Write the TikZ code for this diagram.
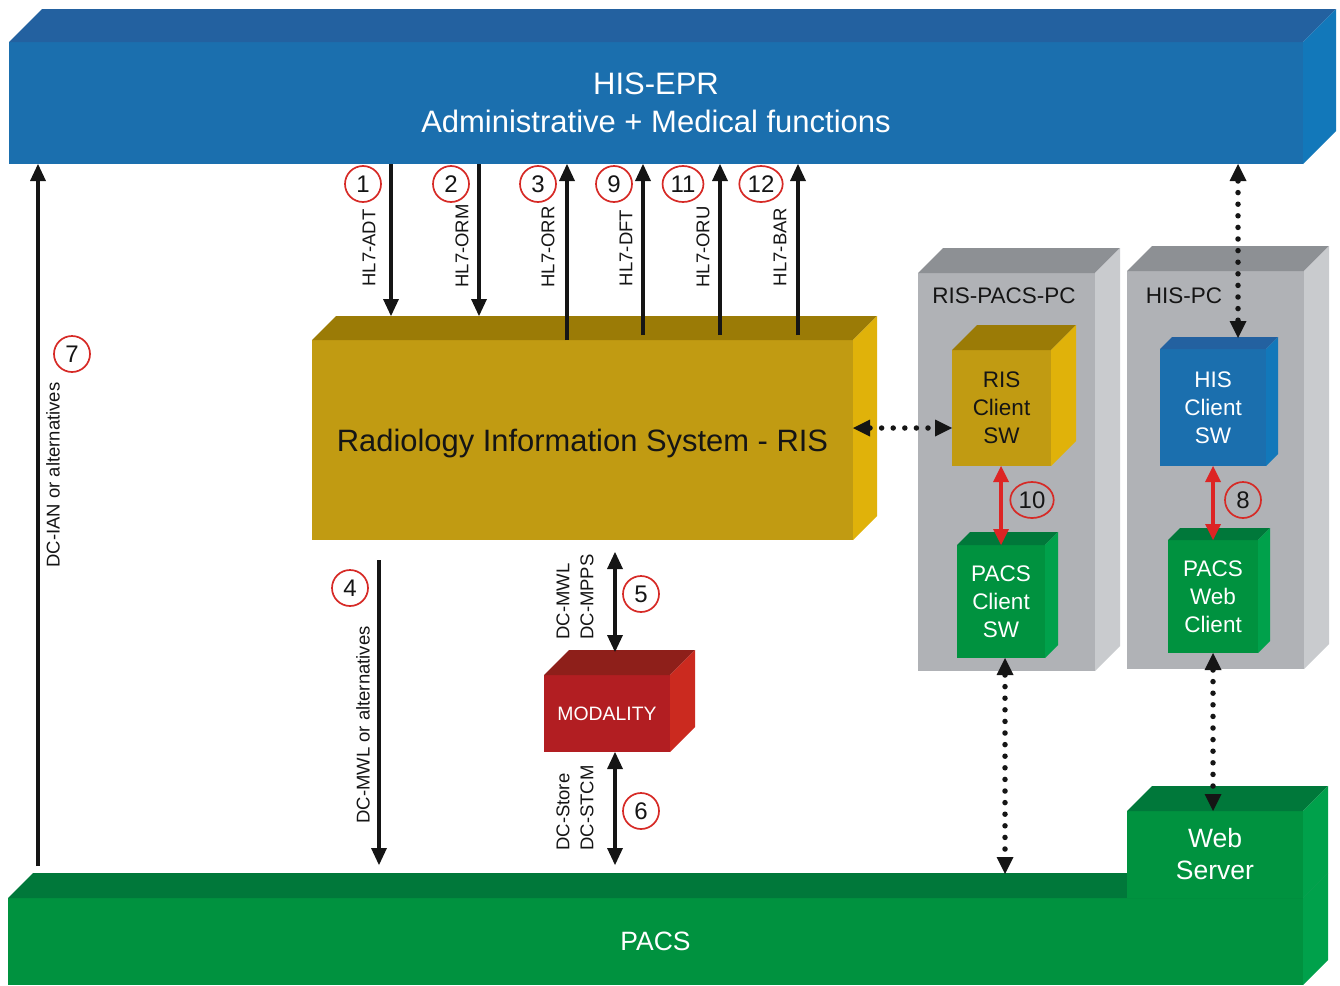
\documentclass[tikz,border=0pt]{standalone}
\usepackage{fontspec}
\setmainfont{Liberation Sans}
\usetikzlibrary{arrows.meta,shapes.geometric,calc}
\definecolor{blueF}{HTML}{1B6FAE}
\definecolor{blueT}{HTML}{2361A0}
\definecolor{blueS}{HTML}{1278BA}
\definecolor{goldF}{HTML}{C19B12}
\definecolor{goldT}{HTML}{9B7B06}
\definecolor{goldS}{HTML}{E0B20A}
\definecolor{grayF}{HTML}{B0B2B6}
\definecolor{grayT}{HTML}{8D9094}
\definecolor{grayS}{HTML}{C9CBCE}
\definecolor{greenF}{HTML}{00923F}
\definecolor{greenT}{HTML}{00783A}
\definecolor{greenS}{HTML}{00A14B}
\definecolor{redF}{HTML}{B21E22}
\definecolor{redT}{HTML}{8E1F1A}
\definecolor{redS}{HTML}{CB2A1F}
\definecolor{numred}{HTML}{D62A26}
\definecolor{arrred}{HTML}{DD2424}
\definecolor{ink}{HTML}{151515}
\newcommand\cuboidfaces[4]{%
  \fill[#3] (#1.north west) -- ++(#2,-#2) -- ([shift={(#2,-#2)}]#1.north east) -- (#1.north east) -- cycle;
  \fill[#4] (#1.north east) -- ++(#2,-#2) -- ([shift={(#2,-#2)}]#1.south east) -- (#1.south east) -- cycle;
}
\tikzset{
  face/.style={draw=none, inner sep=0pt, outer sep=0pt, align=center},
  blk/.style={line width=4.5pt, draw=ink, -{Triangle[width=16pt,length=17pt,line width=0pt]}},
  blkboth/.style={line width=4.5pt, draw=ink, {Triangle[width=16pt,length=17pt,line width=0pt]}-{Triangle[width=16pt,length=17pt,line width=0pt]}},
  dotarr/.style={line width=5.5pt, draw=ink, dash pattern=on 0pt off 11.6pt, line cap=round,
     {Triangle[width=17pt,length=17pt,line width=0pt]}-{Triangle[width=17pt,length=17pt,line width=0pt]}},
  redarr/.style={line width=4.5pt, draw=arrred, {Triangle[width=16pt,length=16pt,line width=0pt]}-{Triangle[width=16pt,length=16pt,line width=0pt]}},
  numc/.style={ellipse, draw=numred, line width=1.7pt, inner xsep=2pt, inner ysep=0pt,
     minimum width=36pt, minimum height=36pt, text=ink, font=\fontsize{24}{24}\selectfont},
  lab/.style={inner sep=0pt, rotate=90, text=ink, align=left, font=\fontsize{18.5}{24}\selectfont},
  boxtxt/.style={font=\fontsize{22.5}{28}\selectfont},
}
\begin{document}
\begin{tikzpicture}[x=1pt,y=-1pt]
\useasboundingbox (0,0) rectangle (1340,985);
% HIS-EPR
\node[face, fill=blueF, minimum width=1294pt, minimum height=122pt, text=white,
  font=\fontsize{31}{38}\selectfont] (hisepr) at (656,103) {\raisebox{-2pt}{\parbox{600pt}{\centering HIS-EPR\\Administrative + Medical functions}}};
\cuboidfaces{hisepr}{33}{blueT}{blueS}
% PACS
\node[face, fill=greenF, minimum width=1295pt, minimum height=87pt, text=white,
  font=\fontsize{26.5}{32}\selectfont] (pacs) at (655.5,941.5) {PACS};
\cuboidfaces{pacs}{25}{greenT}{greenS}
\node[face, fill=greenF, minimum width=176pt, minimum height=87pt, text=white,
  font=\fontsize{26.5}{32}\selectfont] (webserver) at (1215,854.5) {Web\\Server};
\cuboidfaces{webserver}{25}{greenT}{greenS}
% RIS
\node[face, fill=goldF, minimum width=541pt, minimum height=200pt, text=ink, text depth=0pt,
  font=\fontsize{30.9}{36}\selectfont] (ris) at (582.5,440) {Radiology Information System - RIS};
\cuboidfaces{ris}{24}{goldT}{goldS}
\coordinate (ristop) at ([yshift=24pt]ris.north);
% PCs
\node[face, fill=grayF, minimum width=177pt, minimum height=398pt] (rispc) at (1006.5,472) {};
\cuboidfaces{rispc}{25}{grayT}{grayS}
\node[text=ink, inner sep=0pt, font=\fontsize{22.5}{28}\selectfont] (rispclbl) at (1004,296) {RIS-PACS-PC};
\node[face, fill=grayF, minimum width=177pt, minimum height=398pt] (hispc) at (1215.5,470) {};
\cuboidfaces{hispc}{25}{grayT}{grayS}
\node[text=ink, inner sep=0pt, font=\fontsize{22.5}{28}\selectfont] (hispclbl) at (1184,296) {HIS-PC};
% client boxes
\node[face, boxtxt, fill=goldF, text=ink, minimum width=99pt, minimum height=116pt] (risclient) at (1001.5,408) {RIS\\Client\\SW};
\cuboidfaces{risclient}{25}{goldT}{goldS}
\node[face, boxtxt, fill=greenF, text=white, minimum width=88pt, minimum height=113pt] (pacsclient) at (1001,601.5) {PACS\\Client\\SW};
\cuboidfaces{pacsclient}{13}{greenT}{greenS}
\node[face, boxtxt, fill=blueF, text=white, minimum width=106pt, minimum height=117pt] (hisclient) at (1213,407.5) {HIS\\Client\\SW};
\cuboidfaces{hisclient}{12}{blueT}{blueS}
\node[face, boxtxt, fill=greenF, text=white, minimum width=90pt, minimum height=113pt] (webclient) at (1213,596.5) {PACS\\Web\\Client};
\cuboidfaces{webclient}{12}{greenT}{greenS}
% modality
\node[face, fill=redF, text=white, minimum width=126pt, minimum height=77pt,
  font=\fontsize{19.4}{24}\selectfont] (modality) at (607,713.5) {MODALITY};
\cuboidfaces{modality}{25}{redT}{redS}
% HL7 arrows
\draw[blk] (391,0 |- hisepr.south) -- (391,0 |- ristop);
\draw[blk] (479,0 |- hisepr.south) -- (479,0 |- ristop);
\draw[blk] (567,0 |- ris.north) -- (567,0 |- hisepr.south);
\draw[blk] (643,335) -- (643,0 |- hisepr.south);
\draw[blk] (720,335) -- (720,0 |- hisepr.south);
\draw[blk] (798,335) -- (798,0 |- hisepr.south);
\node[numc] (n1) at (363,184) {1};
\node[numc] (n2) at (451,184) {2};
\node[numc] (n3) at (538,184) {3};
\node[numc] (n9) at (614,184) {9};
\node[numc] (n11) at (683,184) {11};
\node[numc] (n12) at (761,184) {12};
\node[lab] (l1) at (369,248) {HL7-ADT};
\node[lab] (l2) at (462,246) {HL7-ORM};
\node[lab] (l3) at (548,247) {HL7-ORR};
\node[lab] (l9) at (626,248) {HL7-DFT};
\node[lab] (l11) at (703,247) {HL7-ORU};
\node[lab] (l12) at (780,247) {HL7-BAR};
% left arrows
\draw[blk] (38,866) -- (38,0 |- hisepr.south);
\node[numc] (n7) at (72,354) {7};
\node[lab] (l7) at (53,475) {DC-IAN or alternatives};
\draw[blk] (379,560) -- (379,865);
\node[numc] (n4) at (350,588) {4};
\node[lab] (l4) at (363,725) {DC-MWL or alternatives};
% modality arrows
\draw[blkboth] (615,552) -- (615,652);
\draw[blkboth] (615,0 |- modality.south) -- (615,865);
\node[numc] (n5) at (641,594) {5};
\node[numc] (n6) at (641,811) {6};
\node[lab] (l5) at (575,597) {DC-MWL\\DC-MPPS};
\node[lab] (l6) at (575,808) {DC-Store\\DC-STCM};
% dotted arrows
\draw[dotarr] (ris.east |- 0,428) -- (risclient.west |- 0,428);
\draw[dotarr] (1238,0 |- hisepr.south) -- (1238,338);
\draw[dotarr] (1005,0 |- pacsclient.south) -- (1005,874);
\draw[dotarr] (1213,0 |- webclient.south) -- (1213,0 |- webserver.north);
% red arrows
\draw[redarr] (1001,0 |- risclient.south) -- (1001,0 |- pacsclient.north);
\draw[redarr] (1213,0 |- hisclient.south) -- (1213,0 |- webclient.north);
\node[numc] (n10) at (1032,500) {10};
\node[numc] (n8) at (1243,500) {8};
\end{tikzpicture}
\end{document}
